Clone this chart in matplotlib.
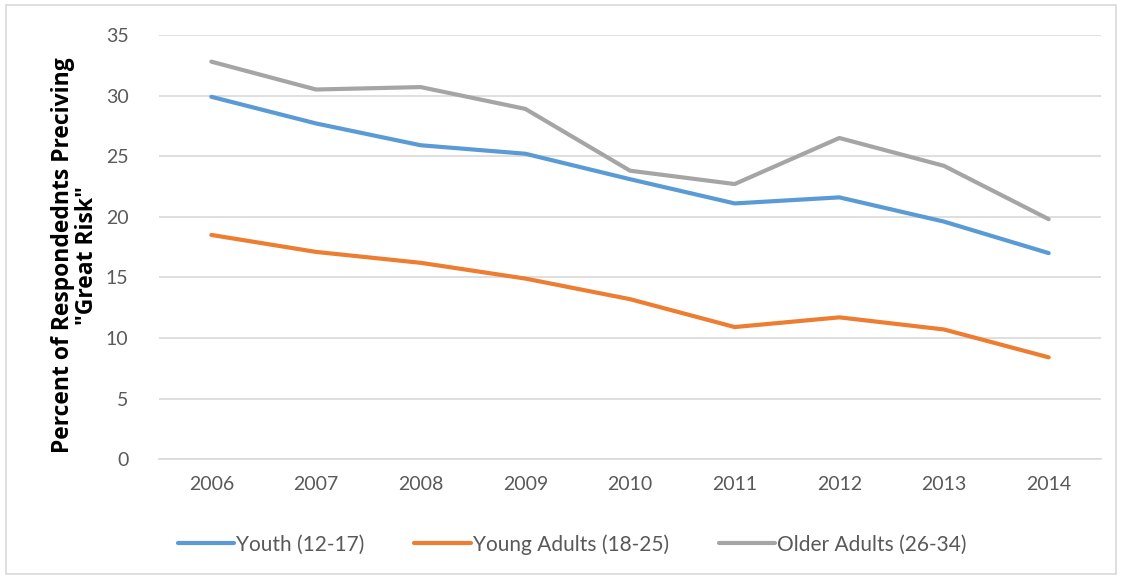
import matplotlib.pyplot as plt
from matplotlib.patches import Rectangle

years = ['2006', '2007', '2008', '2009', '2010', '2011', '2012', '2013', '2014']
youth = [29.9, 27.7, 25.9, 25.2, 23.1, 21.1, 21.6, 19.6, 17.0]
young_adults = [18.5, 17.1, 16.2, 14.9, 13.2, 10.9, 11.7, 10.7, 8.4]
older_adults = [32.8, 30.5, 30.7, 28.9, 23.8, 22.7, 26.5, 24.2, 19.8]

plt.rcParams['font.family'] = ['Lato', 'DejaVu Sans']

fig = plt.figure(figsize=(11.22, 5.79), dpi=100)
ax = fig.add_axes([0.1417, 0.207, 0.8396, 0.7326])

x = range(len(years))
ax.plot(x, youth, color='#5B9BD5', lw=3.0, label='Youth (12-17)', solid_capstyle='round')
ax.plot(x, young_adults, color='#ED7D31', lw=3.0, label='Young Adults (18-25)', solid_capstyle='round')
ax.plot(x, older_adults, color='#A5A5A5', lw=3.0, label='Older Adults (26-34)', solid_capstyle='round')

ax.set_xlim(-0.5, 8.5)
ax.set_ylim(0, 35)
ax.set_yticks(range(0, 36, 5))
ax.set_xticks(list(x))
ax.set_xticklabels(years)
ax.tick_params(length=0, labelsize=14, labelcolor='#595959', pad=12)
ax.tick_params(axis='y', pad=22)
ax.grid(axis='y', color='#D9D9D9', lw=1.2)
ax.set_axisbelow(True)
for s in ['top', 'right', 'left']:
    ax.spines[s].set_visible(False)
ax.spines['bottom'].set_color('#D9D9D9')
ax.spines['bottom'].set_linewidth(1.2)

ax.set_ylabel('Percent of Respondednts Preciving\n"Great Risk"', fontsize=16.5,
              fontweight='bold', family=['Open Sans', 'DejaVu Sans'], linespacing=1.0)
ax.yaxis.set_label_coords(-0.064, 0.48)

fig.legend(loc='center', bbox_to_anchor=(0.51, 0.06), ncol=3, frameon=False,
           fontsize=15, handlelength=2.7, handletextpad=0.1, columnspacing=2.4,
           labelcolor='#595959')

fig.patches.append(Rectangle((0.005, 0.008), 0.99, 0.984, transform=fig.transFigure,
                             fill=False, edgecolor='#D9D9D9', lw=1.2))

fig.savefig('out.png', dpi=100)
